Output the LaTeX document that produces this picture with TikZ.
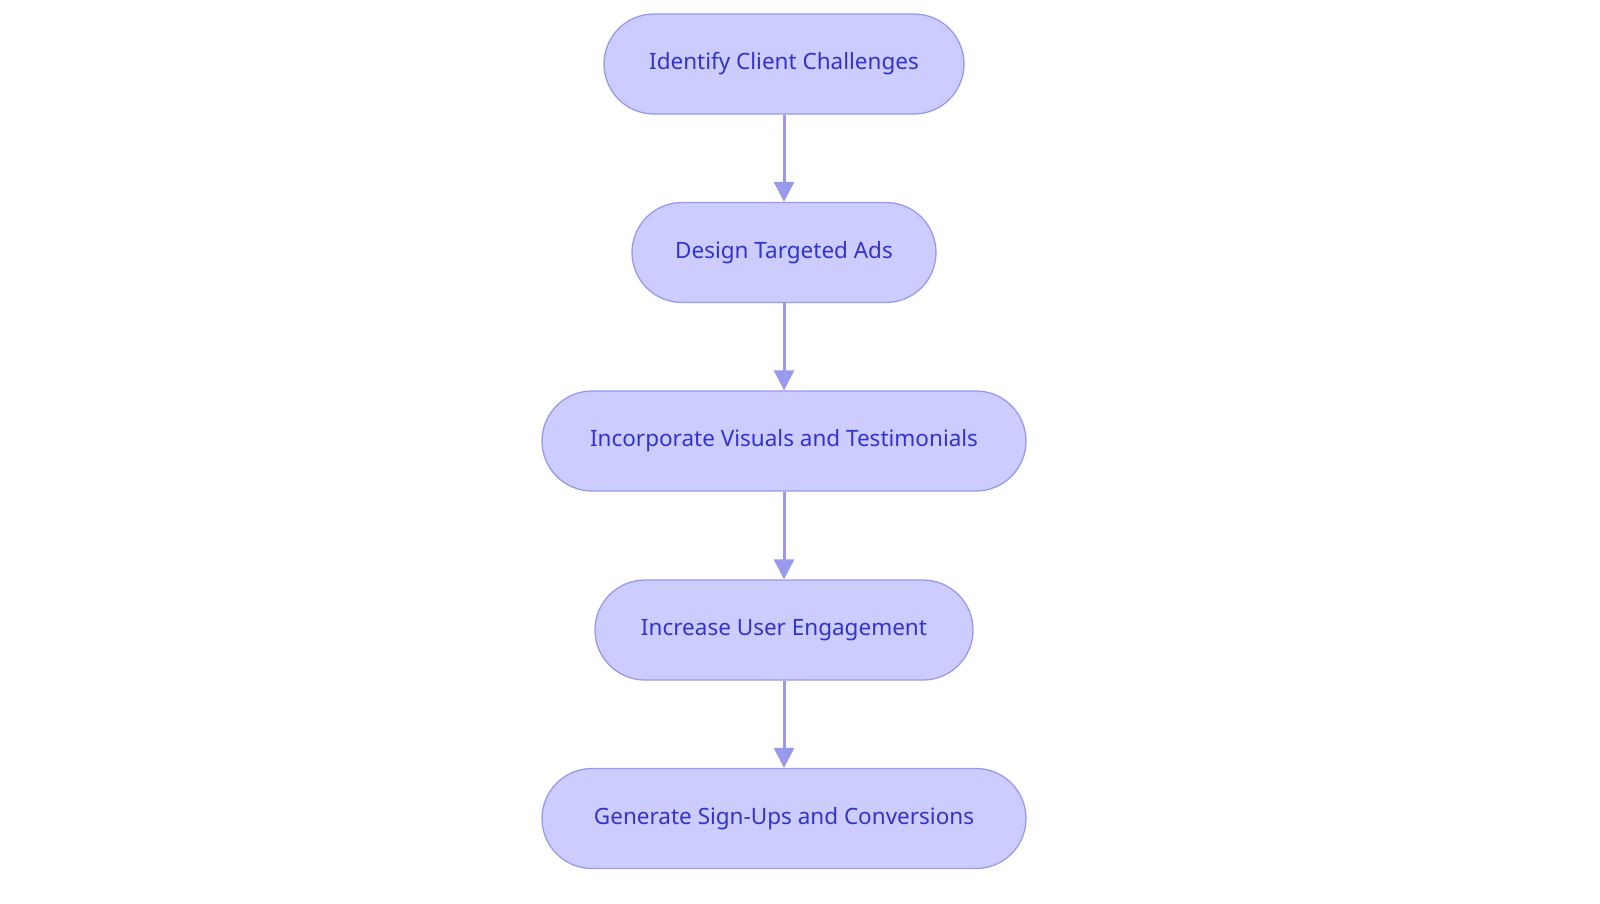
\documentclass[tikz,border=0pt]{standalone}
\usepackage{fontspec}
\setmainfont{Noto Sans}
\usetikzlibrary{arrows.meta}
\definecolor{fillc}{HTML}{CCCCFF}
\definecolor{linec}{HTML}{9999EE}
\definecolor{textc}{HTML}{3333CC}
\begin{document}
\begin{tikzpicture}[x=1pt,y=-1pt,
  box/.style={rectangle, rounded corners=50pt, draw=linec, line width=1.3pt, fill=fillc, text=textc,
    font=\fontsize{22.5}{27}\selectfont, minimum height=100pt, inner sep=0pt},
  arr/.style={draw=linec, line width=3pt, -{Triangle[length=20pt,width=20pt]}}]
\useasboundingbox (0,0) rectangle (1600,903);
\node[box, minimum width=360pt] (a) at (784,64) {Identify Client Challenges};
\node[box, minimum width=304pt] (b) at (784,252.5) {Design Targeted Ads};
\node[box, minimum width=484pt] (c) at (784,441) {Incorporate Visuals and Testimonials};
\node[box, minimum width=378pt] (d) at (784,630) {Increase User Engagement};
\node[box, minimum width=484pt] (e) at (784,818.5) {Generate Sign-Ups and Conversions};
\draw[arr] (a) -- (b);
\draw[arr] (b) -- (c);
\draw[arr] (c) -- (d);
\draw[arr] (d) -- (e);
\end{tikzpicture}
\end{document}
